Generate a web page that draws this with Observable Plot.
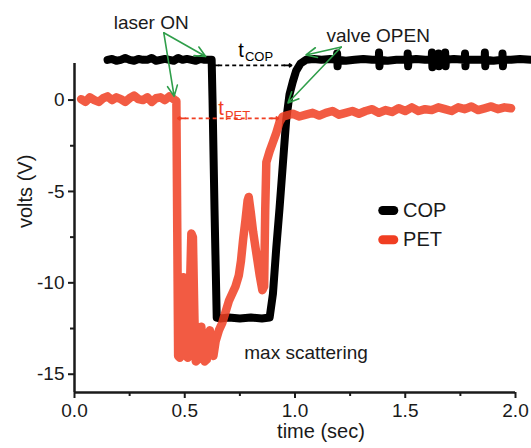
<!DOCTYPE html>
<html>
<head>
<meta charset="utf-8">
<script src="https://cdn.jsdelivr.net/npm/d3@7"></script>
<script src="https://cdn.jsdelivr.net/npm/@observablehq/plot@0.6"></script>
<style>
  html, body { margin: 0; padding: 0; background: #fff; }
  #chart { width: 531px; height: 448px; }
</style>
</head>
<body>
<div id="chart"></div>
<script>
// ---- data (time in sec, volts in V) ----
const seriesNames = ["COP", "PET"];
const seriesColors = ["#000000", "#f03e22"];

const copTime = [0.15,0.17,0.19,0.21,0.23,0.25,0.27,0.29,0.31,0.33,0.35,0.37,0.39,0.41,0.43,0.45,0.47,0.49,0.51,0.53,0.55,0.57,0.59,0.61,0.622,
  0.626,0.635,0.645,0.66,0.70,0.75,0.80,0.85,0.885,
  0.90,0.915,0.93,0.945,0.96,0.975,0.99,1.005,1.025,1.05,1.085,
  1.12,1.16,1.19,1.191,1.193,1.195,1.23,1.27,1.31,1.35,1.38,1.381,1.383,1.385,1.42,1.46,1.51,1.511,1.513,1.515,1.55,1.59,
  1.62,1.621,1.623,1.625,1.65,1.651,1.653,1.655,1.68,1.681,1.683,1.685,1.72,1.77,1.771,1.773,1.775,1.81,1.86,1.861,1.863,1.865,1.90,
  1.94,1.941,1.943,1.945,1.98,2.02,2.07];
const copVolt = [2.2,2.25,2.15,2.2,2.3,2.2,2.15,2.25,2.2,2.2,2.3,2.15,2.2,2.25,2.2,2.15,2.3,2.2,2.25,2.2,2.15,2.25,2.2,2.2,2.2,
  0.0,-6.0,-11.9,-11.95,-11.9,-11.95,-11.9,-11.95,-11.9,
  -10.6,-8.1,-5.9,-3.5,-1.1,0.3,1.0,1.6,2.0,2.2,2.25,
  2.2,2.25,2.2,2.55,1.85,2.2,2.15,2.2,2.25,2.2,2.2,2.6,1.85,2.2,2.15,2.2,2.2,2.55,1.85,2.2,2.25,2.2,
  2.2,2.6,1.8,2.2,2.2,2.55,1.85,2.2,2.2,2.6,1.85,2.2,2.25,2.2,2.55,1.85,2.2,2.2,2.2,2.6,1.85,2.2,2.15,
  2.2,2.55,1.85,2.2,2.2,2.25,2.2];

const petTime = [0.03,0.05,0.07,0.09,0.11,0.13,0.15,0.17,0.19,0.21,0.23,0.25,0.27,0.29,0.31,0.33,0.35,0.37,0.39,0.41,0.43,0.45,0.462,
  0.466,0.47,0.478,0.486,0.493,0.5,0.506,0.514,0.522,0.53,0.537,0.544,0.55,0.56,0.568,0.575,0.583,0.59,0.6,0.608,0.614,0.622,0.63,
  0.64,0.655,0.67,0.685,0.7,0.715,0.73,0.745,0.755,0.765,0.775,0.785,0.79,0.8,0.81,0.82,0.83,0.84,0.852,0.86,
  0.865,0.87,0.885,0.9,0.915,0.93,0.945,0.96,
  0.99,1.02,1.05,1.08,1.11,1.14,1.17,1.2,1.23,1.26,1.29,1.32,1.35,1.38,1.41,1.44,1.47,1.5,1.53,1.56,1.59,1.62,1.65,1.68,1.71,1.74,
  1.77,1.8,1.83,1.86,1.89,1.92,1.95,1.98];
const petVolt = [0.05,-0.1,0.15,0.0,-0.1,0.1,0.2,0.0,0.15,0.05,-0.1,0.1,0.25,0.05,0.0,0.15,-0.1,0.1,0.15,0.0,0.2,0.05,-0.05,
  -7.0,-14.0,-14.1,-12.0,-9.7,-11.0,-14.0,-14.1,-11.0,-7.3,-7.5,-12.0,-14.3,-14.2,-13.0,-12.4,-13.5,-14.3,-14.2,-13.0,-12.6,-13.8,-14.0,
  -13.2,-12.6,-12.2,-11.6,-11.0,-10.6,-10.2,-9.6,-8.8,-7.6,-6.6,-5.5,-5.3,-6.2,-7.2,-8.0,-8.8,-9.6,-10.4,-10.2,
  -6.0,-3.4,-2.8,-2.3,-1.8,-1.2,-0.9,-0.85,
  -0.75,-0.9,-0.8,-0.7,-0.85,-0.7,-0.6,-0.8,-0.7,-0.6,-0.75,-0.6,-0.5,-0.7,-0.55,-0.65,-0.45,-0.6,-0.4,-0.6,-0.5,-0.55,-0.4,-0.5,-0.6,-0.4,
  -0.5,-0.35,-0.55,-0.45,-0.35,-0.5,-0.4,-0.45];

// axis ticks
const xTicks = [0, 0.5, 1.0, 1.5, 2.0];
const xMinorTicks = [0.25, 0.75, 1.25, 1.75];
const yTicks = [0, -5, -10, -15];
const yMinorTicks = [-2.5, -7.5, -12.5];
const xLabel = "time (sec)";
const yLabel = "volts (V)";

// annotations (data space)
const noteTexts = ["laser ON", "valve OPEN", "max scattering"];
const noteX = [0.348, 1.377, 1.05];
const noteY = [4.2, 3.5, -13.85];
const greenFromX = [0.405, 0.405, 1.21, 1.21];
const greenFromY = [3.68, 3.68, 2.9, 2.9];
const greenToX = [0.595, 0.452, 1.05, 0.968];
const greenToY = [2.38, 0.2, 2.47, -0.16];
const spanNames = ["COP", "PET"];
const spanX1 = [0.62, 0.468];
const spanX2 = [0.985, 0.925];
const spanY = [1.9, -1.0];
const spanHead = 0.035; // arrowhead stub length along x
const spanLabelX = [0.755, 0.664];
const spanLabelY = [2.72, -0.45];
const spanSubX = [0.773, 0.682];
const spanSubY = [2.38, -0.85];
// legend placement (data space)
const legendX1 = [1.398, 1.398];
const legendX2 = [1.448, 1.448];
const legendY = [-6.04, -7.64];
const legendTextX = [1.49, 1.49];

// ---- build tables ----
const cop = copTime.map((t, i) => ({t, v: copVolt[i]}));
const pet = petTime.map((t, i) => ({t, v: petVolt[i]}));
const notes = noteTexts.map((s, i) => ({s, x: noteX[i], y: noteY[i]}));
const greens = greenFromX.map((x1, i) => ({x1, y1: greenFromY[i], x2: greenToX[i], y2: greenToY[i]}));
const spans = spanNames.map((s, i) => ({s, x1: spanX1[i], x2: spanX2[i], y: spanY[i], lx: spanLabelX[i], ly: spanLabelY[i], sx: spanSubX[i], sy: spanSubY[i], c: seriesColors[i]}));
const spanHeads = spans.flatMap(d => [
  {from: d.x1 + spanHead, to: d.x1, y: d.y, c: d.c},
  {from: d.x2 - spanHead, to: d.x2, y: d.y, c: d.c}
]);
const legend = seriesNames.map((s, i) => ({s, x1: legendX1[i], x2: legendX2[i], y: legendY[i], tx: legendTextX[i], c: seriesColors[i]}));

const ink = "#1a1a1a";
const green = "#2f9e4a";

const chart = Plot.plot({
  width: 531,
  height: 448,
  marginLeft: 74,
  marginRight: 16,
  marginTop: 63,
  marginBottom: 56,
  x: {domain: [0, 2]},
  y: {domain: [-16, 2]},
  style: {fontFamily: "'Liberation Sans', Arial, sans-serif", background: "#fff", color: ink, overflow: "visible"},
  marks: [
    Plot.axisY({ticks: yTicks, tickSize: 6, tickPadding: 4, tickFormat: d => String(d), fontSize: 19, label: null, strokeWidth: 2, stroke: ink}),
    Plot.axisY({ticks: yMinorTicks, tickSize: 4, tickFormat: () => "", label: null, strokeWidth: 2, stroke: ink}),
    Plot.axisX({ticks: xTicks, tickSize: 6, tickPadding: 5, tickFormat: d => d.toFixed(1), fontSize: 19, label: null, strokeWidth: 2, stroke: ink}),
    Plot.axisX({ticks: xMinorTicks, tickSize: 4, tickFormat: () => "", label: null, strokeWidth: 2, stroke: ink}),
    Plot.ruleX([0], {stroke: ink, strokeWidth: 2.5}),
    Plot.ruleY([-16], {stroke: ink, strokeWidth: 2.5}),
    Plot.text([yLabel], {frameAnchor: "left", dx: -49, rotate: -90, fontSize: 20, fill: ink}),
    Plot.text([xLabel], {frameAnchor: "bottom", dx: 26, dy: 45, fontSize: 20, fill: ink}),
    // series
    Plot.line(cop, {x: "t", y: "v", stroke: seriesColors[0], strokeWidth: 8, strokeLinejoin: "round", strokeLinecap: "round"}),
    Plot.line(pet, {x: "t", y: "v", stroke: seriesColors[1], strokeOpacity: 0.85, strokeWidth: 8.5, strokeLinejoin: "round", strokeLinecap: "round"}),
    // span arrows (dashed shaft + solid heads at both ends)
    Plot.link(spans, {x1: "x1", x2: "x2", y1: "y", y2: "y", stroke: "c", strokeWidth: 1.6, strokeDasharray: "4,3"}),
    Plot.arrow(spanHeads, {x1: "from", x2: "to", y1: "y", y2: "y", stroke: "c", strokeWidth: 1.6, headLength: 8, headAngle: 70}),
    Plot.text(spans, {x: "lx", y: "ly", text: () => "t", fill: "c", fontSize: 20}),
    Plot.text(spans, {x: "sx", y: "sy", text: "s", fill: "c", fontSize: 13, textAnchor: "start"}),
    // green pointers
    Plot.arrow(greens, {x1: "x1", y1: "y1", x2: "x2", y2: "y2", stroke: green, strokeWidth: 1.6, headLength: 11, headAngle: 50}),
    Plot.text(notes, {x: "x", y: "y", text: "s", fontSize: 19, fill: ink}),
    // legend
    Plot.link(legend, {x1: "x1", x2: "x2", y1: "y", y2: "y", stroke: "c", strokeWidth: 9, strokeLinecap: "round"}),
    Plot.text(legend, {x: "tx", y: "y", text: "s", textAnchor: "start", fontSize: 20, fill: ink})
  ]
});
document.getElementById("chart").appendChild(chart);
</script>
</body>
</html>
